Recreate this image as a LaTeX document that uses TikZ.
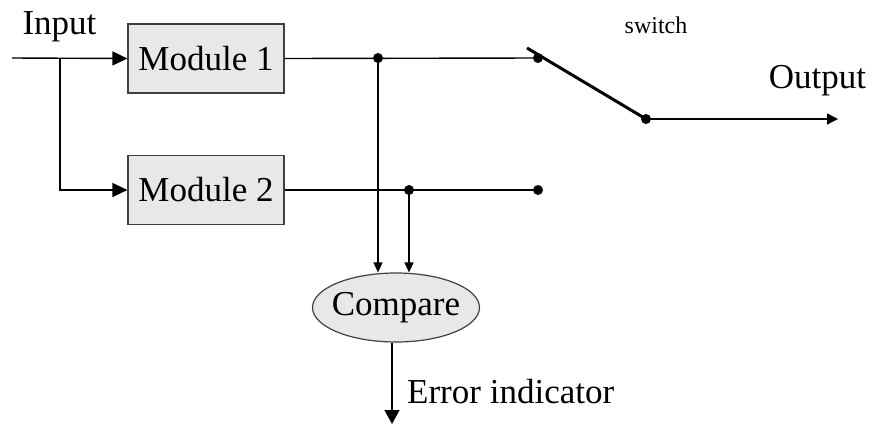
\documentclass[tikz,border=0pt]{standalone}
\usepackage{fontspec}
\setmainfont{Liberation Serif}
\usetikzlibrary{arrows.meta,shapes.geometric}
\begin{document}
\begin{tikzpicture}[x=1pt,y=-1pt,
  wire/.style={line width=1.4pt},
  bigtext/.style={font=\fontsize{35}{42}\selectfont, inner sep=0pt},
  smalltext/.style={font=\fontsize{24}{29}\selectfont, inner sep=0pt},
  modbox/.style={draw=black!75, line width=1.2pt, fill=black!9, minimum width=156pt, minimum height=69pt, inner sep=0pt, font=\fontsize{35}{42}\selectfont},
  cmpshape/.style={ellipse, draw=black!75, line width=1.2pt, fill=black!9, minimum width=167pt, minimum height=69pt, inner sep=0pt, font=\fontsize{35}{42}\selectfont},
  dot/.style={circle, fill=black, inner sep=0pt, minimum size=10pt},
  bigarrow/.style={-{Triangle[length=15pt,width=14pt]}},
  smallarrow/.style={-{Triangle[length=10pt,width=9pt]}},
  outarrow/.style={-{Triangle[length=11pt,width=11pt]}},
  errarrow/.style={-{Triangle[length=14pt,width=15pt]}}
]
\useasboundingbox (0,0) rectangle (873,424);

% modules and compare
\node[modbox] (m1) at (206,58.5) {Module 1};
\node[modbox] (m2) at (206,190) {Module 2};
\node[cmpshape] (cmp) at (396,307.5) {\makebox[0pt]{Compare}};

% junction dots
\node[dot] (j1) at (378,58) {};
\node[dot] (s1) at (538,58) {};
\node[dot] (j2) at (409,190) {};
\node[dot] (s2) at (538,190) {};
\node[dot] (s3) at (646,119) {};

% free ends
\coordinate (in0) at (12,58);
\coordinate (br) at (60,58);
\coordinate (b0) at (527,48);
\coordinate (out) at (838,119);
\coordinate (err) at (392,424);

% input
\draw[wire,bigarrow] (in0) -- (m1.west);
\draw[wire,bigarrow] (br) |- (m2.west);

% module outputs
\draw[wire] (m1.east) -- (s1.center);
\draw[wire] (m2.east) -- (s2.center);

% to compare
\draw[wire,smallarrow] (j1.center) -- (j1.center |- cmp.north);
\draw[wire,smallarrow] (j2.center) -- (j2.center |- cmp.north);

% error indicator
\draw[wire,errarrow] (cmp.south -| err) -- (err);

% switch
\draw[line width=3pt] (b0) -- (s3.center);
\draw[wire,outarrow] (s3.center) -- (out);

% labels
\node[bigtext, anchor=base] (tin) at (59.5,34) {Input};
\node[bigtext, anchor=base] (tout) at (817.5,88) {Output};
\node[smalltext, anchor=base] (tsw) at (656,33) {switch};
\node[bigtext, anchor=base west] (terr) at (407,403) {Error indicator};
\end{tikzpicture}
\end{document}
